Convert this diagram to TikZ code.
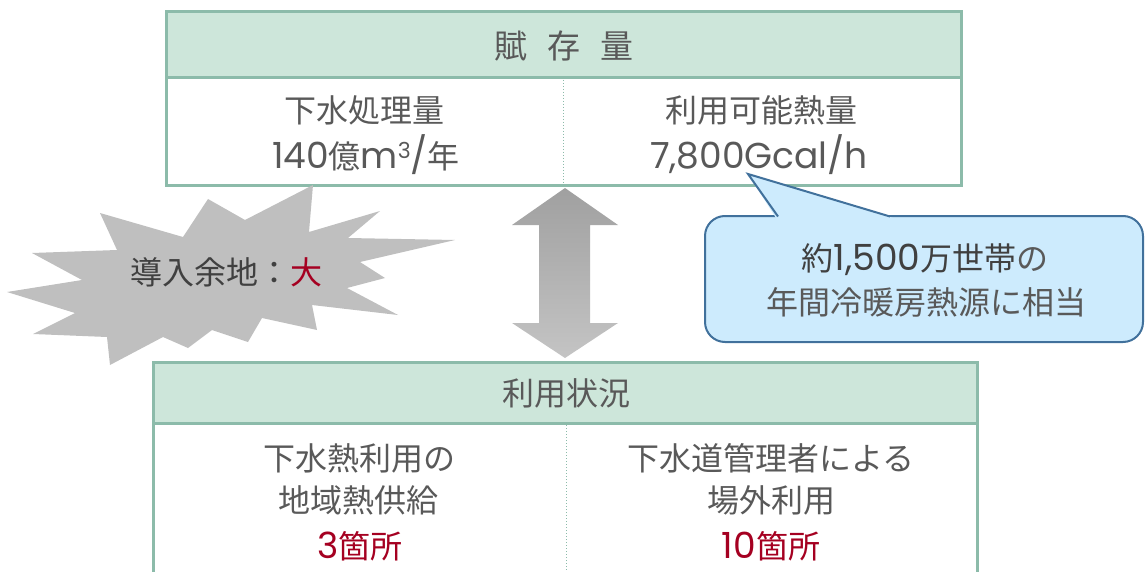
\documentclass[tikz,border=0pt]{standalone}
\usepackage{fontspec}
\setmainfont{Noto Sans CJK JP}
\newfontfamily\latn{Poppins}
\definecolor{txt}{HTML}{595959}
\definecolor{txtd}{HTML}{404040}
\definecolor{bord}{HTML}{8CBBAA}
\definecolor{hdr}{HTML}{CDE6DA}
\definecolor{redt}{HTML}{A50021}
\definecolor{cfill}{HTML}{CDEBFD}
\definecolor{cline}{HTML}{41719C}
\definecolor{starg}{HTML}{BFBFBF}
\definecolor{arrtop}{HTML}{A0A0A0}
\definecolor{arrmid}{HTML}{555555}
\definecolor{arrbot}{HTML}{C4C4C4}
\newcommand{\lt}[1]{{\latn\fontsize{36}{40}\selectfont #1}}
\newcommand{\supthree}{\raisebox{10pt}{\latn\fontsize{22}{24}\selectfont 3}}
\begin{document}
\begin{tikzpicture}[x=1pt,y=-1pt,
  lbl/.style={text=txt, font=\fontsize{32}{36}\selectfont, inner sep=0pt, text height=28pt, text depth=4pt},
  redlbl/.style={lbl, text=redt},
  boxline/.style={draw=bord, line width=3pt},
  divline/.style={draw=bord, line width=1pt, dotted}]
\useasboundingbox (0,0) rectangle (1145,572);
\clip (0,0) rectangle (1145,572);

% top box
\fill[hdr] (166,12) rectangle (961,78);
\fill[white] (166,78) rectangle (961,186);
\draw[divline] (563,80) -- (563,185);
\draw[boxline] (166,78) -- (961,78);
\draw[boxline] (166,12) rectangle (961,186);
\node[lbl, font=\fontsize{33}{36}\selectfont] (t0) at (564,47) {賦\hspace{0.6em}存\hspace{0.6em}量};
\node[lbl] (t1) at (364,111) {下水処理量};
\node[lbl] (t2) at (366,157) {\lt{140}億\lt{m}\supthree\lt{/}年};
\node[lbl] (t3) at (761,111) {利用可能熱量};
\node[lbl] (t4) at (759,157) {\lt{7,800Gcal/h}};

% bottom box
\fill[hdr] (153,362) rectangle (977,423);
\fill[white] (153,423) rectangle (977,600);
\draw[divline] (566,425) -- (566,600);
\draw[boxline] (153,423) -- (977,423);
\draw[boxline] (153,362) rectangle (977,600);
\node[lbl] (b0) at (566,393) {利用状況};
\node[lbl] (b1) at (359,458) {下水熱利用の};
\node[lbl] (b2) at (358,500) {地域熱供給};
\node[redlbl] (b3) at (360,546) {\lt{3}箇所};
\node[lbl] (b4) at (771,458) {下水道管理者による};
\node[lbl] (b5) at (771,500) {場外利用};
\node[redlbl] (b6) at (771,546) {\lt{10}箇所};

% double arrow
\shade[top color=arrtop, middle color=arrmid, bottom color=arrbot]
  (565,188) -- (618,225) -- (590,225) -- (590,323) -- (618,323) -- (565,358)
  -- (512,323) -- (539,323) -- (539,225) -- (512,225) -- cycle;

% star
\fill[starg] (313,185) -- (309,232) -- (380,211) -- (348,238) -- (455,240)
  -- (360,262) -- (385,278) -- (347,288) -- (398,315) -- (312,305)
  -- (317,330) -- (262,318) -- (248,342) -- (212,330) -- (188,348)
  -- (163,337) -- (110,365) -- (107,337) -- (33,334) -- (75,313)
  -- (7,292) -- (82,280) -- (32,253) -- (117,250) -- (100,213)
  -- (183,237) -- (208,199) -- (245,220) -- cycle;
\node[lbl, text=txtd] (s) at (226,272) {導入余地：\textcolor{redt}{大}};

% callout
\draw[fill=cfill, draw=cline, line width=2pt, rounded corners=20pt] (705,216) rectangle (1143,342);
\fill[cfill] (776,218) -- (748,174) -- (893,218) -- cycle;
\draw[cline, line width=2pt, line join=miter] (778,216.5) -- (748,174) -- (890,216.5);
\node[lbl, text=txtd] (c1) at (925,258) {約\lt{1,500}万世帯\textcolor{txt}{の}};
\node[lbl] (c2) at (926,302) {年間冷暖房熱源に相当};
\end{tikzpicture}
\end{document}
